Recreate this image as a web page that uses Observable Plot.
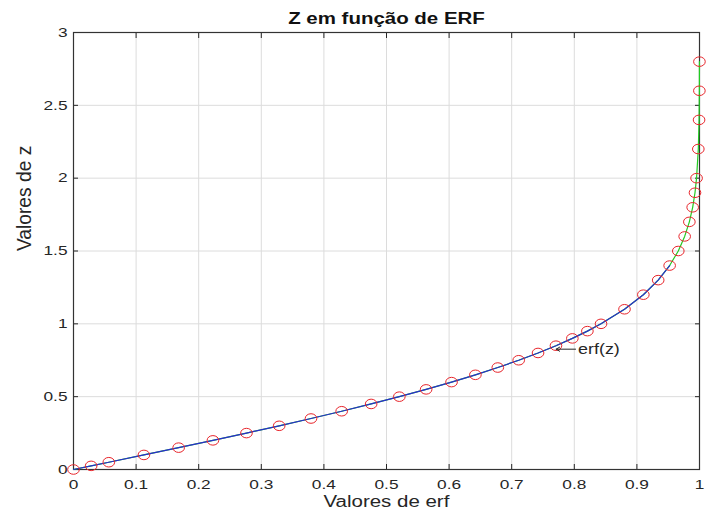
<!DOCTYPE html>
<html>
<head>
<meta charset="utf-8">
<script src="https://cdn.jsdelivr.net/npm/d3@7"></script>
<script src="https://cdn.jsdelivr.net/npm/@observablehq/plot@0.6"></script>
<style>
  html, body { margin: 0; padding: 0; background: #fff; }
  #chart { width: 710px; height: 511px; }
  svg { font-family: "Liberation Sans", Arial, sans-serif; }
</style>
</head>
<body>
<div id="chart"></div>
<script>
// Z values (markers) and their erf values
const zValues = [0, 0.025, 0.05, 0.1, 0.15, 0.2, 0.25, 0.3, 0.35, 0.4, 0.45, 0.5, 0.55, 0.6, 0.65, 0.7, 0.75, 0.8, 0.85, 0.9, 0.95, 1.0, 1.1, 1.2, 1.3, 1.4, 1.5, 1.6, 1.7, 1.8, 1.9, 2.0, 2.2, 2.4, 2.6, 2.8];
const erfValues = [0, 0.0282, 0.0564, 0.1125, 0.168, 0.2227, 0.2763, 0.3286, 0.3794, 0.4284, 0.4755, 0.5205, 0.5633, 0.6039, 0.6420, 0.6778, 0.7112, 0.7421, 0.7707, 0.7969, 0.8209, 0.8427, 0.8802, 0.9103, 0.9340, 0.9523, 0.9661, 0.9763, 0.9838, 0.9891, 0.9928, 0.9953, 0.9981, 0.9993, 0.9998, 0.9999];
// blue curve covers the first part of the data (z up to 1.4)
const blueCount = 26;

const xTicks = [0, 0.1, 0.2, 0.3, 0.4, 0.5, 0.6, 0.7, 0.8, 0.9, 1];
const yTicks = [0, 0.5, 1, 1.5, 2, 2.5, 3];

const titleText = "Z em função de ERF";
const xLabel = "Valores de erf";
const yLabel = "Valores de z";

// annotation "erf(z)" with an arrow
const annotText = ["erf(z)"];
const annotX = [0.806];
const annotY = [0.826];
const arrowFrom = [0.802];
const arrowTo = [0.771];

const pts = zValues.map((z, i) => ({x: erfValues[i], y: z}));
const bluePts = pts.slice(0, blueCount);

const tickColor = "#262626";

// slightly wide ellipse marker (the reference is stretched horizontally)
const ellipseSymbol = {
  draw(context, size) {
    const r = Math.sqrt(size / Math.PI);
    const rx = r * 1.12, ry = r * 0.92, k = 0.5523;
    context.moveTo(rx, 0);
    context.bezierCurveTo(rx, ry * k, rx * k, ry, 0, ry);
    context.bezierCurveTo(-rx * k, ry, -rx, ry * k, -rx, 0);
    context.bezierCurveTo(-rx, -ry * k, -rx * k, -ry, 0, -ry);
    context.bezierCurveTo(rx * k, -ry, rx, -ry * k, rx, 0);
    context.closePath();
  }
};

const plot = Plot.plot({
  width: 710,
  height: 511,
  marginLeft: 73,
  marginRight: 11,
  marginTop: 32,
  marginBottom: 42,
  style: {fontFamily: "Liberation Sans, Arial, sans-serif", fontSize: "13px", color: tickColor, background: "#fff"},
  x: {domain: [0, 1], ticks: xTicks},
  y: {domain: [0, 3], ticks: yTicks},
  marks: [
    Plot.gridX(xTicks, {stroke: "#dcdcdc", strokeOpacity: 1}),
    Plot.gridY(yTicks, {stroke: "#dcdcdc", strokeOpacity: 1}),
    // tick labels
    Plot.axisX(xTicks, {tickSize: 0, tickPadding: 10, fontSize: 13.5, fill: tickColor, label: null, tickFormat: d => String(d)}),
    Plot.axisY(yTicks, {tickSize: 0, tickPadding: 6, fontSize: 13.5, fill: tickColor, label: null, tickFormat: d => String(d)}),
    // inward tick marks on all four sides
    Plot.axisX(xTicks, {anchor: "bottom", tickSize: -5, tickFormat: () => "", label: null, stroke: tickColor}),
    Plot.axisX(xTicks, {anchor: "top", tickSize: -5, tickFormat: () => "", label: null, stroke: tickColor}),
    Plot.axisY(yTicks, {anchor: "left", tickSize: -5, tickFormat: () => "", label: null, stroke: tickColor}),
    Plot.axisY(yTicks, {anchor: "right", tickSize: -5, tickFormat: () => "", label: null, stroke: tickColor}),
    Plot.frame({stroke: "#333", strokeWidth: 1.2}),
    Plot.line(pts, {x: "x", y: "y", stroke: "#22cc22", strokeWidth: 1.2}),
    Plot.line(bluePts, {x: "x", y: "y", stroke: "#2a2ad0", strokeWidth: 1.2}),
    Plot.dot(pts, {x: "x", y: "y", r: 5.2, symbol: ellipseSymbol, stroke: "#e8252b", fill: "none", strokeWidth: 1}),
    Plot.arrow(annotText, {x1: (d, i) => arrowFrom[i], x2: (d, i) => arrowTo[i], y1: (d, i) => annotY[i], y2: (d, i) => annotY[i], stroke: tickColor, strokeWidth: 1, headLength: 6}),
    Plot.text(annotText, {x: (d, i) => annotX[i], y: (d, i) => annotY[i], text: d => d, textAnchor: "start", fontSize: 14, fill: tickColor}),
    // title and axis labels
    Plot.text([titleText], {frameAnchor: "top", lineAnchor: "middle", dy: -14, text: d => d, fontWeight: "bold", fontSize: 16, fill: "#111"}),
    Plot.text([xLabel], {frameAnchor: "bottom", lineAnchor: "middle", dy: 32, text: d => d, fontSize: 16, fill: tickColor}),
    Plot.text([yLabel], {frameAnchor: "left", dx: -49, rotate: -90, text: d => d, fontSize: 16, fill: tickColor})
  ]
});
document.getElementById("chart").appendChild(plot);

// The reference picture is stretched horizontally: widen every text around its anchor
d3.select(plot).selectAll("text").each(function () {
  const el = this;
  const bb = el.getBBox();
  if (!bb.width) return;
  const anchor = getComputedStyle(el).textAnchor;
  const ax = anchor === "middle" ? bb.x + bb.width / 2 : anchor === "end" ? bb.x + bb.width : bb.x;
  const ay = bb.y + bb.height / 2;
  const t = el.getAttribute("transform") || "";
  const rotated = /rotate/.test(t);
  const s = rotated ? "scale(1.2,1.25)" : "scale(1.28,1)";
  el.setAttribute("transform", `${t} translate(${ax},${ay}) ${s} translate(${-ax},${-ay})`);
});
</script>
</body>
</html>
